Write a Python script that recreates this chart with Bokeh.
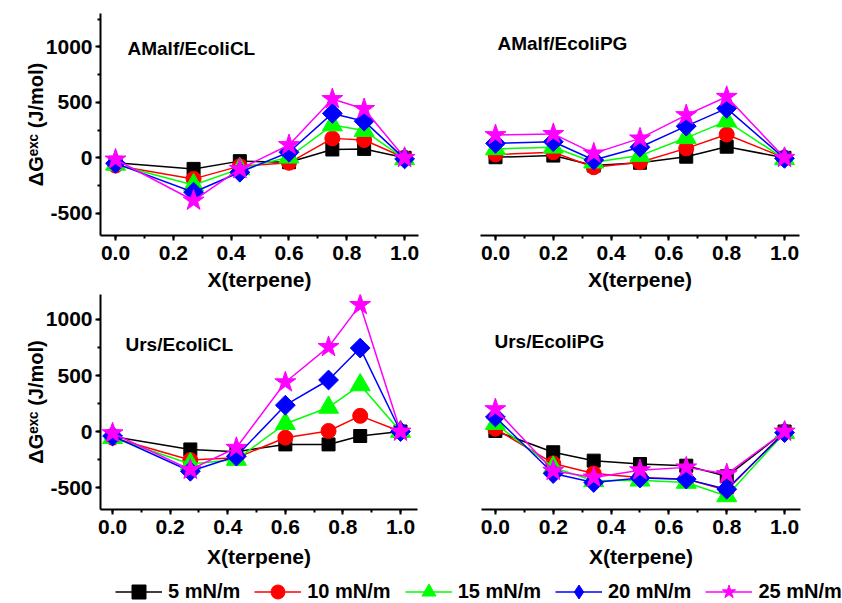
from bokeh.plotting import figure
from bokeh.layouts import column, row
from bokeh.models import Label, SingleIntervalTicker, Range1d, Legend, LegendItem, PrintfTickFormatter
from bokeh.embed import file_html
from bokeh.resources import INLINE
import math

# ---------------- data ----------------
x_cl = [0.0, 0.27, 0.43, 0.60, 0.75, 0.86, 1.0]
x_pg = [0.0, 0.20, 0.34, 0.50, 0.66, 0.80, 1.0]

series_labels = ["5 mN/m", "10 mN/m", "15 mN/m", "20 mN/m", "25 mN/m"]

amalf_cl_5 = [-45, -100, -30, -40, 75, 80, 0]
amalf_cl_10 = [-70, -190, -75, -45, 175, 160, 0]
amalf_cl_15 = [-60, -245, -100, 5, 295, 245, -10]
amalf_cl_20 = [-50, -310, -130, 50, 400, 330, -10]
amalf_cl_25 = [-15, -385, -100, 115, 530, 440, 0]

amalf_pg_5 = [5, 20, -70, -45, 10, 100, 0]
amalf_pg_10 = [30, 50, -85, -40, 85, 210, 0]
amalf_pg_15 = [80, 95, -40, 20, 180, 330, -10]
amalf_pg_20 = [130, 145, -20, 95, 285, 445, -5]
amalf_pg_25 = [205, 215, 40, 175, 385, 550, 0]

urs_cl_5 = [-45, -160, -180, -115, -115, -40, 0]
urs_cl_10 = [-55, -255, -235, -55, 5, 140, 0]
urs_cl_15 = [-55, -290, -250, 70, 215, 415, 0]
urs_cl_20 = [-40, -355, -220, 235, 460, 745, 0]
urs_cl_25 = [-15, -340, -145, 440, 755, 1130, 0]

urs_pg_5 = [5, -185, -260, -290, -305, -400, 0]
urs_pg_10 = [25, -285, -375, -410, -425, -525, 0]
urs_pg_15 = [70, -320, -440, -435, -455, -575, -10]
urs_pg_20 = [130, -375, -455, -415, -425, -515, -10]
urs_pg_25 = [200, -350, -410, -345, -320, -380, 0]

panel_titles = ["AMalf/EcoliCL", "AMalf/EcoliPG", "Urs/EcoliCL", "Urs/EcoliPG"]
x_label = "X(terpene)"
y_label = "\u0394G\u1d49\u02e3\u1d9c (J/mol)"

# ---------------- styles ----------------
colors = ["#000000", "#ff0000", "#00ff00", "#0000ff", "#ff00ff"]
markers = ["square", "circle", "triangle", "square", "star"]
legend_markers = ["square", "circle", "triangle", "diamond", "star"]
sizes = [13, 15, 20, 14, 22]
legend_sizes = [13, 15, 20, 21, 22]
angles = [0, 0, 0, math.pi / 4, 0]
FONT = "Liberation Sans"


def style_axis(ax):
    ax.axis_line_width = 2
    ax.major_tick_line_width = 2
    ax.minor_tick_line_width = 2
    ax.major_tick_out = 5
    ax.major_tick_in = 0
    ax.minor_tick_out = 3
    ax.minor_tick_in = 0
    ax.major_label_text_font = FONT
    ax.major_label_text_font_style = "bold"
    ax.major_label_text_font_size = "21px"
    ax.major_label_text_color = "black"
    ax.axis_label_text_font = FONT
    ax.axis_label_text_font_style = "bold"
    ax.axis_label_text_font_size = "21px"
    ax.axis_label_text_color = "black"


def make_panel(xs, ys_list, xr, yr, width, height, bl, br, bt, bb, title, tx, ty,
               show_y, xlab_standoff):
    p = figure(width=width, height=height, x_range=Range1d(*xr), y_range=Range1d(*yr),
               output_backend="svg", toolbar_location=None,
               min_border_left=bl, min_border_right=br, min_border_top=bt, min_border_bottom=bb)
    xa = p.xaxis[0]
    ya = p.yaxis[0]
    style_axis(xa)
    style_axis(ya)
    ya.axis_label_text_font_size = "20px"
    xa.ticker = SingleIntervalTicker(interval=0.2, num_minor_ticks=2)
    xa.formatter = PrintfTickFormatter(format="%.1f")
    ya.ticker = SingleIntervalTicker(interval=500, num_minor_ticks=2)
    ya.formatter = PrintfTickFormatter(format="%d")
    xa.major_label_standoff = 5
    xa.axis_label_standoff = xlab_standoff
    ya.major_label_standoff = 3
    ya.axis_label_standoff = -4
    xa.axis_label = x_label
    if show_y:
        ya.axis_label = y_label
    else:
        ya.visible = False
    p.grid.visible = False
    p.outline_line_color = None
    for ys, c, m, s, a in zip(ys_list, colors, markers, sizes, angles):
        p.line(xs, ys, line_color=c, line_width=1.5)
        p.scatter(xs, ys, marker=m, size=s, angle=a, fill_color=c, line_color=c)
    p.add_layout(Label(x=tx, y=ty, x_units="screen", y_units="screen", text=title,
                       text_font=FONT, text_font_style="bold", text_font_size="19px",
                       text_baseline="middle", text_align="left", text_color="black"))
    return p


p1 = make_panel(x_cl, [amalf_cl_5, amalf_cl_10, amalf_cl_15, amalf_cl_20, amalf_cl_25],
                (-0.052, 1.048), (-700, 1300), 421, 294, 100, 3, 13, 59,
                panel_titles[0], 27, 187, True, 5)
p2 = make_panel(x_pg, [amalf_pg_5, amalf_pg_10, amalf_pg_15, amalf_pg_20, amalf_pg_25],
                (-0.052, 1.052), (-700, 1300), 421, 294, 59, 43, 13, 59,
                panel_titles[1], 17, 192, False, 5)
p3 = make_panel(x_cl, [urs_cl_5, urs_cl_10, urs_cl_15, urs_cl_20, urs_cl_25],
                (-0.042, 1.059), (-696, 1223), 421, 278, 100, 4, 0, 63,
                panel_titles[2], 25, 165, True, 8)
p4 = make_panel(x_pg, [urs_pg_5, urs_pg_10, urs_pg_15, urs_pg_20, urs_pg_25],
                (-0.048, 1.055), (-696, 1223), 421, 278, 60, 42, 0, 63,
                panel_titles[3], 13, 168, False, 8)

# ---------------- legend strip ----------------
# proxy renderers reuse the first panel's data but sit far outside the visible range
leg = figure(width=842, height=31, x_range=(0, 1), y_range=(10000, 10001), output_backend="svg",
             toolbar_location=None, min_border=0)
leg.axis.visible = False
leg.grid.visible = False
leg.outline_line_color = None
items = []
proxy_data = [amalf_cl_5, amalf_cl_10, amalf_cl_15, amalf_cl_20, amalf_cl_25]
for lab, ys, c, m, s in zip(series_labels, proxy_data, colors, legend_markers, legend_sizes):
    r1 = leg.line(x_cl, ys, line_color=c, line_width=1.5)
    r2 = leg.scatter(x_cl, ys, marker=m, size=s, fill_color=c, line_color=c)
    items.append(LegendItem(label=lab, renderers=[r1, r2]))
legend = Legend(items=items, orientation="horizontal", location=(115, -6),
                glyph_width=47, glyph_height=35, label_height=20, label_standoff=6,
                spacing=14, padding=0, margin=0, border_line_color=None,
                background_fill_alpha=0, label_text_font=FONT, label_text_font_style="bold",
                label_text_font_size="20px", label_text_color="black")
leg.add_layout(legend, "center")

layout = column(row(p1, p2), row(p3, p4), leg)

open("out.html", "w").write(file_html(layout, INLINE))
